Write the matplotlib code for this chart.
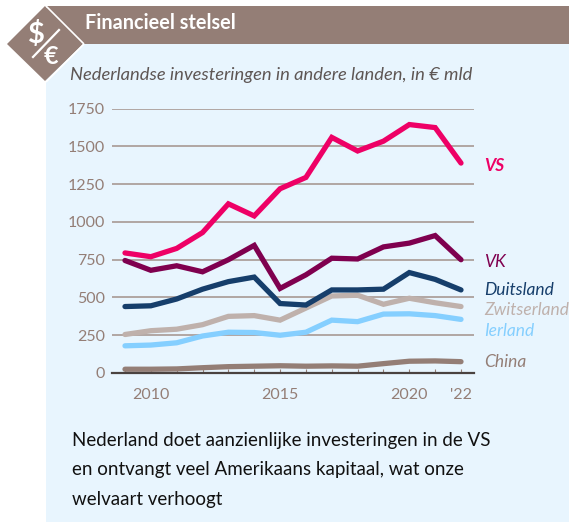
import matplotlib
matplotlib.use("Agg")
import matplotlib.pyplot as plt
from matplotlib.patches import Polygon, Rectangle

years = list(range(2009, 2023))
vs = [795, 770, 825, 930, 1120, 1040, 1220, 1295, 1560, 1470, 1535, 1645, 1625, 1390]
vk = [745, 680, 710, 670, 750, 845, 560, 650, 760, 755, 835, 860, 910, 750]
duitsland = [440, 445, 490, 555, 605, 635, 460, 450, 550, 550, 555, 665, 620, 550]
zwitserland = [255, 280, 290, 320, 375, 380, 350, 430, 510, 515, 455, 495, 465, 440]
ierland = [180, 185, 200, 245, 270, 268, 250, 270, 350, 340, 390, 392, 380, 355]
china = [25, 25, 27, 35, 42, 45, 48, 45, 47, 45, 62, 78, 80, 75]
yticks = [0, 250, 500, 750, 1000, 1250, 1500, 1750]
xticks = [2010, 2015, 2020, 2022]
xticklabels = ["2010", "2015", "2020", "'22"]
title = "Financieel stelsel"
subtitle = "Nederlandse investeringen in andere landen, in € mld"
caption = ("Nederland doet aanzienlijke investeringen in de VS\n"
           "en ontvangt veel Amerikaans kapitaal, wat onze\n"
           "welvaart verhoogt")

BROWN = "#947E76"
PANEL = "#E8F5FE"
W, H = 569, 522
plt.rcParams["font.family"] = ["Lato", "DejaVu Sans"]

fig = plt.figure(figsize=(W / 100, H / 100), dpi=100, facecolor="white")
bg = fig.add_axes([0, 0, 1, 1], zorder=0)
bg.set_xlim(0, W); bg.set_ylim(H, 0); bg.axis("off")
bg.add_patch(Rectangle((46, 44), W - 46, H - 44, fc=PANEL, ec="none"))
bg.add_patch(Rectangle((47, 6), W - 47, 38, fc=BROWN, ec="none"))
bg.add_patch(Polygon([(45, 6), (83, 44), (45, 81), (7, 44)], fc=BROWN, ec="none"))
bg.plot([46, 84], [6, 44], color="white", lw=1.2, solid_capstyle="butt")
bg.plot([84, 46], [44, 82], color="white", lw=1.2, solid_capstyle="butt")
bg.plot([33, 59], [57, 30], color="white", lw=1.6)
bg.text(36, 34, "$", color="white", fontsize=21, fontweight="bold", ha="center", va="center")
bg.text(51, 56, "€", color="white", fontsize=18, fontweight="bold", ha="center", va="center")
bg.text(85, 23, title, color="white", fontsize=14.3, fontweight="bold", va="center")
bg.text(70, 75, subtitle, color="#5E5654", fontsize=13.2, style="italic", va="center")
bg.text(72, 440.5, caption.split("\n")[0], color="#111111", fontsize=13.5, va="center")
bg.text(72, 470, caption.split("\n")[1], color="#111111", fontsize=13.5, va="center")
bg.text(72, 499, caption.split("\n")[2], color="#111111", fontsize=13.5, va="center")

left, right, top, bottom = 112, 474, 108.7, 373
ax = fig.add_axes([left / W, 1 - bottom / H, (right - left) / W, (bottom - top) / H], zorder=1)
ax.patch.set_alpha(0)
ppy = (461 - 125) / 13
ax.set_xlim(2009 - (125 - left) / ppy, 2022 + (right - 461) / ppy)
ax.set_ylim(0, 1750)
for s in ["top", "left", "right"]:
    ax.spines[s].set_visible(False)
ax.spines["bottom"].set_color("#4A4240")
ax.spines["bottom"].set_linewidth(1.6)
ax.set_yticks(yticks)
ax.set_yticklabels([str(v) for v in yticks], color=BROWN, fontsize=11.5)
ax.tick_params(axis="y", length=0, pad=5)
ax.set_xticks(years, minor=True)
ax.tick_params(axis="x", which="minor", direction="in", length=3, width=0.8, color=BROWN)
ax.set_xticks(xticks)
ax.set_xticklabels(xticklabels, color=BROWN, fontsize=11.5)
ax.tick_params(axis="x", which="major", direction="in", length=3, width=0.8, color=BROWN, pad=11)
ax.grid(axis="y", color="#A2918B", lw=1.1)
ax.set_axisbelow(True)

series = [
    (china, "#947E76", "China", 362, "normal"),
    (ierland, "#85CFFF", "Ierland", 331, "normal"),
    (zwitserland, "#BFB1AC", "Zwitserland", 310, "normal"),
    (duitsland, "#163E6B", "Duitsland", 290, "normal"),
    (vk, "#7F004F", "VK", 262, "normal"),
    (vs, "#EE0066", "VS", 166, "bold"),
]
for vals, color, name, ypx, weight in series:
    ax.plot(years, vals, color=color, lw=3.8, solid_capstyle="round", solid_joinstyle="miter", clip_on=False)
    bg.text(484, ypx, name, color=color, fontsize=12.5, style="italic", fontweight=weight, va="center")

fig.savefig("out.png", dpi=100)
